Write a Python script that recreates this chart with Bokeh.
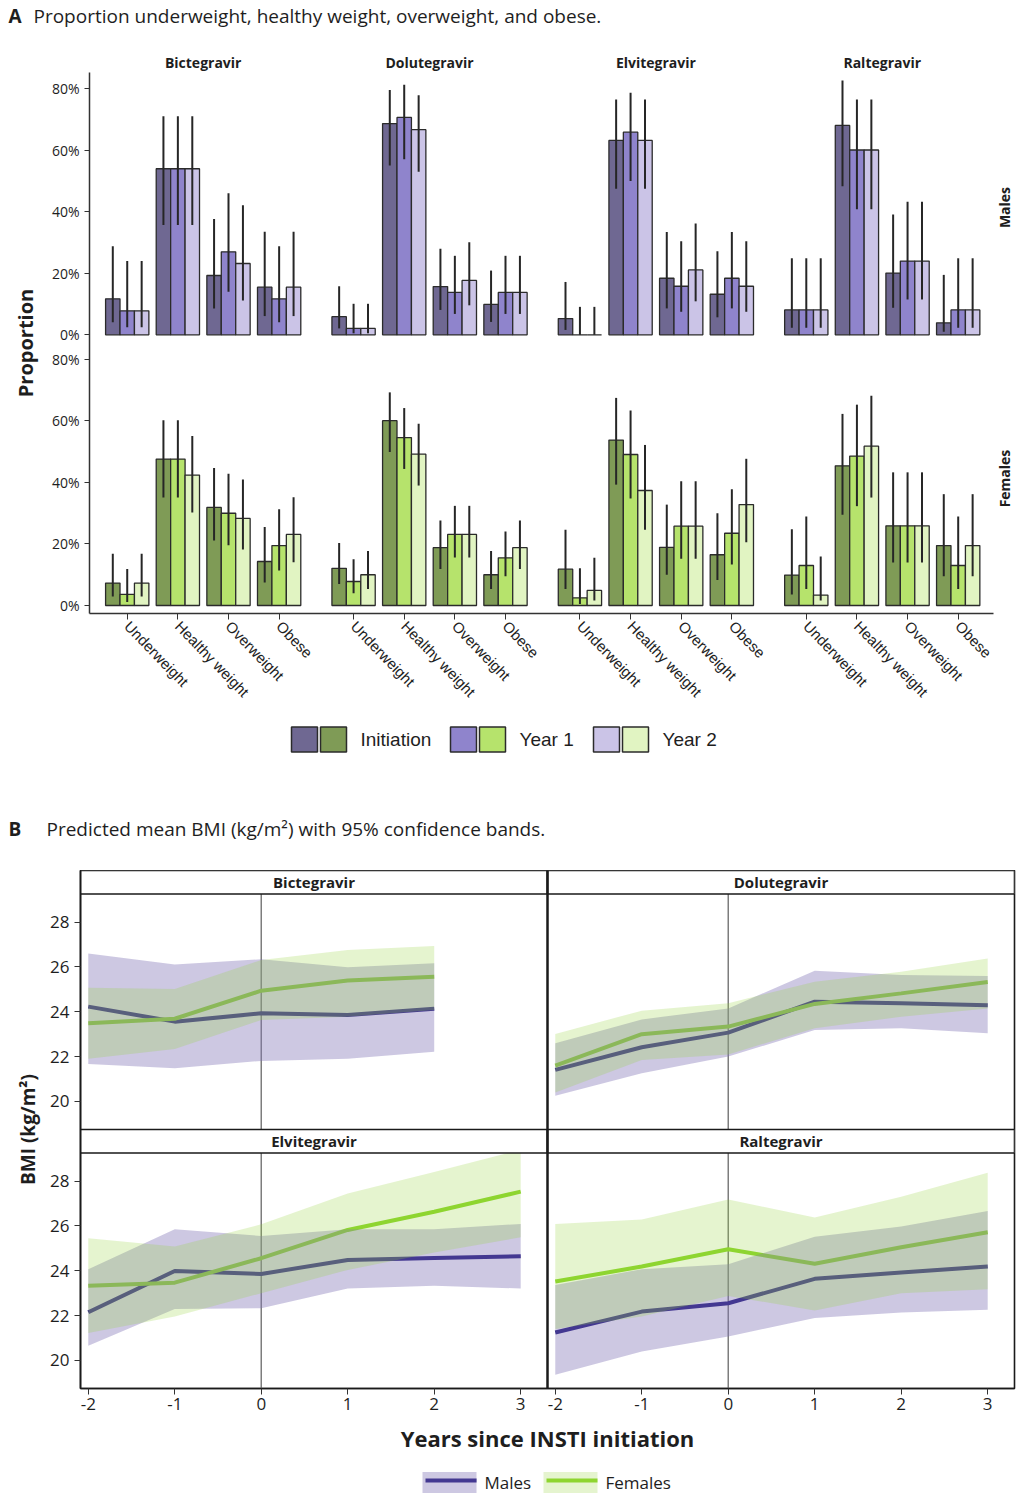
import math
from bokeh.plotting import figure
from bokeh.models import Range1d, FixedTicker, Label
from bokeh.embed import file_html
from bokeh.resources import INLINE
from bokeh.core.properties import value

# ------------------------------------------------------------------ data
drugs = ["Bictegravir", "Dolutegravir", "Elvitegravir", "Raltegravir"]
weight_classes = ["Underweight", "Healthy weight", "Overweight", "Obese"]
timepoints = ["Initiation", "Year 1", "Year 2"]
sexes = ["Males", "Females"]
pct_ticks = [0, 20, 40, 60, 80]

# proportions (%), drug-major order: 4 drugs x 4 weight classes
males_init = [11.7, 54.0, 19.3, 15.5, 5.9, 68.7, 15.7, 9.9, 5.3, 63.2, 18.4, 13.2, 8.1, 68.1, 20.1, 3.9]
males_y1 = [7.8, 54.0, 27.0, 11.7, 2.1, 70.7, 13.8, 13.8, 0.0, 65.9, 15.8, 18.4, 8.1, 60.1, 24.0, 8.1]
males_y2 = [7.8, 54.0, 23.2, 15.5, 2.1, 66.7, 17.7, 13.8, 0.0, 63.2, 21.1, 15.8, 8.1, 60.1, 24.0, 8.1]
males_init_lo = [4.1, 35.7, 8.6, 6.1, 2.1, 55.1, 8.1, 4.2, 1.6, 47.5, 8.6, 5.7, 2.3, 48.3, 8.8, 1.0]
males_init_hi = [28.8, 71.1, 37.7, 33.5, 15.8, 79.6, 28.0, 20.9, 17.2, 76.5, 33.4, 27.2, 24.9, 82.7, 39.1, 19.5]
males_y1_lo = [2.5, 35.7, 14.0, 4.1, 0.5, 57.1, 6.8, 6.8, 0.0, 50.0, 7.5, 8.6, 2.3, 40.8, 11.5, 2.3]
males_y1_hi = [24.0, 71.1, 46.0, 28.8, 10.1, 81.3, 25.7, 25.7, 9.1, 78.7, 30.4, 33.4, 24.9, 76.5, 43.3, 24.9]
males_y2_lo = [2.5, 35.7, 11.2, 6.1, 0.5, 53.0, 9.6, 6.8, 0.0, 47.5, 10.9, 7.5, 2.3, 40.8, 11.5, 2.3]
males_y2_hi = [24.0, 71.1, 42.1, 33.5, 10.1, 77.9, 30.1, 25.7, 9.1, 76.5, 36.2, 30.4, 24.9, 76.5, 43.3, 24.9]

females_init = [7.3, 47.6, 31.9, 14.3, 12.1, 60.1, 18.8, 10.0, 11.8, 53.8, 18.9, 16.5, 9.9, 45.4, 25.9, 19.5]
females_y1 = [3.6, 47.6, 30.0, 19.5, 7.8, 54.6, 23.1, 15.5, 2.5, 49.1, 25.8, 23.5, 13.0, 48.6, 25.9, 13.0]
females_y2 = [7.3, 42.4, 28.3, 23.1, 10.0, 49.2, 23.1, 18.8, 4.9, 37.4, 25.8, 32.8, 3.4, 51.8, 25.9, 19.5]
females_init_lo = [2.9, 35.1, 21.1, 7.5, 7.0, 49.9, 11.9, 5.4, 5.4, 39.3, 10.0, 8.3, 3.6, 29.5, 14.0, 9.5]
females_init_hi = [16.8, 60.2, 44.7, 25.5, 20.3, 69.3, 27.6, 17.7, 24.6, 67.5, 32.8, 30.0, 24.8, 62.3, 43.3, 36.2]
females_y1_lo = [1.1, 35.1, 19.6, 11.4, 4.0, 44.4, 15.6, 9.5, 0.5, 34.8, 15.2, 13.3, 5.4, 32.3, 14.0, 5.4]
females_y1_hi = [11.9, 60.2, 42.8, 31.3, 15.0, 64.2, 32.4, 24.1, 12.1, 63.4, 40.4, 37.8, 28.9, 65.3, 43.3, 28.9]
females_y2_lo = [2.9, 30.2, 18.2, 14.1, 5.4, 39.0, 15.6, 11.9, 1.6, 24.6, 15.2, 20.6, 1.6, 35.1, 14.0, 9.5]
females_y2_hi = [16.8, 55.1, 41.0, 35.2, 17.7, 59.1, 32.4, 27.6, 15.5, 52.2, 40.4, 47.7, 15.9, 68.2, 43.3, 36.2]

# predicted mean BMI (kg/m2) with 95% bands by years since initiation
years = [-2, -1, 0, 1, 2, 3]
year_ticks = [-2, -1, 0, 1, 2, 3]
bmi_ticks = [20, 22, 24, 26, 28]

bic_years = [-2, -1, 0, 1, 2]
bic_male = [24.23, 23.56, 23.93, 23.86, 24.14]
bic_male_lo = [21.67, 21.48, 21.81, 21.90, 22.22]
bic_male_hi = [26.60, 26.11, 26.34, 25.98, 26.16]
bic_female = [23.49, 23.69, 24.94, 25.39, 25.56]
bic_female_lo = [21.90, 22.34, 23.63, 23.78, 24.08]
bic_female_hi = [25.07, 25.01, 26.31, 26.75, 26.93]

dtg_male = [21.41, 22.42, 23.07, 24.45, 24.38, 24.29]
dtg_male_lo = [20.25, 21.26, 22.00, 23.19, 23.26, 23.04]
dtg_male_hi = [22.60, 23.66, 24.15, 25.83, 25.64, 25.60]
dtg_female = [21.60, 23.00, 23.34, 24.35, 24.82, 25.33]
dtg_female_lo = [20.40, 21.85, 22.10, 23.26, 23.78, 24.15]
dtg_female_hi = [23.01, 24.05, 24.38, 25.34, 25.79, 26.38]

evg_male = [22.15, 23.99, 23.86, 24.48, 24.57, 24.65]
evg_male_lo = [20.66, 22.29, 22.33, 23.21, 23.33, 23.21]
evg_male_hi = [24.07, 25.85, 25.55, 25.85, 25.85, 26.09]
evg_female = [23.33, 23.47, 24.56, 25.82, 26.63, 27.53]
evg_female_lo = [21.22, 21.96, 23.00, 24.04, 24.81, 25.49]
evg_female_hi = [25.45, 25.08, 26.07, 27.45, 28.40, 29.40]

ral_male = [21.25, 22.18, 22.55, 23.64, 23.92, 24.19]
ral_male_lo = [19.36, 20.40, 21.07, 21.89, 22.14, 22.26]
ral_male_hi = [23.37, 24.07, 24.29, 25.52, 25.97, 26.66]
ral_female = [23.52, 24.19, 24.96, 24.31, 25.05, 25.72]
ral_female_lo = [21.40, 21.96, 22.88, 22.23, 23.00, 23.18]
ral_female_hi = [26.09, 26.29, 27.18, 26.38, 27.30, 28.37]

# ------------------------------------------------------------------ style
FONT = "Open Sans"
TEXT = "#1e1e1e"
OUTLINE = "#2b2b2b"
MALE_FILLS = ["#6f6892", "#8f84cc", "#cbc4e7"]
FEMALE_FILLS = ["#7f9b56", "#b6e36c", "#e1f4c2"]

MALE_LINE = "#1a0f78"
FEMALE_LINE = "#8bd62b"
MALE_BAND = "#8276b7"
FEMALE_BAND = "#97d33f"
MALE_BAND_ALPHA = 0.4
FEMALE_BAND_ALPHA = 0.25
PAGE_W = 1021


def text_strip(height):
    """A blank full-width canvas whose data units are pixels (y grows downwards)."""
    f = figure(width=PAGE_W, height=height, x_range=Range1d(0, PAGE_W), y_range=Range1d(height, 0),
               output_backend="svg", toolbar_location=None, title=None, min_border=0,
               x_axis_location=None, y_axis_location=None)
    f.grid.visible = False
    f.outline_line_color = None
    return f


def heading(f, y, letter, caption, caption_x):
    f.text(x=[8], y=[y], text=[letter], text_font=value(FONT), text_font_style="bold",
           text_font_size="19px", text_color=TEXT, text_baseline="middle")
    f.text(x=[caption_x], y=[y], text=[caption], text_font=value(FONT), text_font_size="19px",
           text_color=TEXT, text_baseline="middle")


# ================================================================ panel A geometry
GROUP_GAP = 0.47
BAR_W = 0.285
MALE_SHIFT = 88          # male rows sit above the female rows on the shared axis
TOP_H = 72                # heading strip: page rows 0..72
A_H = 643                 # bar canvas: page rows 72..715
A_L, A_B = 89, 541
A_AXIS_RIGHT = 993
AX0, AX1 = -0.745, 17.66
AY0, AY1 = -2.6, 173.3

n_cls = len(weight_classes)
slots = [d * (n_cls + GROUP_GAP) + c for d in range(len(drugs)) for c in range(n_cls)]


def a_x(px):
    return AX0 + (px - A_L) * (AX1 - AX0) / (PAGE_W - A_L)


def a_px(x):
    return A_L + (x - AX0) * (PAGE_W - A_L) / (AX1 - AX0)


def a_y(py):
    return AY1 - py * (AY1 - AY0) / A_B


# ================================================================ panel A heading
top = text_strip(TOP_H)
heading(top, 15, "A", "Proportion underweight, healthy weight, overweight, and obese.", 33)
for d, name in enumerate(drugs):
    centre = sum(slots[d * n_cls:(d + 1) * n_cls]) / n_cls
    top.text(x=[a_px(centre)], y=[62], text=[name], text_font=value(FONT), text_font_style="bold",
             text_font_size="14px", text_color=TEXT, text_align="center", text_baseline="middle")

# ================================================================ panel A
pa = figure(width=PAGE_W, height=A_H, x_range=Range1d(AX0, AX1), y_range=Range1d(AY0, AY1),
            output_backend="svg", toolbar_location=None, title=None,
            min_border_left=A_L, min_border_right=0,
            min_border_top=0, min_border_bottom=A_H - A_B)
pa.extra_y_ranges = {"males": Range1d(AY0 - MALE_SHIFT, AY1 - MALE_SHIFT)}
pa.grid.visible = False
pa.outline_line_color = None

male_series = [(males_init, males_init_lo, males_init_hi),
               (males_y1, males_y1_lo, males_y1_hi),
               (males_y2, males_y2_lo, males_y2_hi)]
female_series = [(females_init, females_init_lo, females_init_hi),
                 (females_y1, females_y1_lo, females_y1_hi),
                 (females_y2, females_y2_lo, females_y2_hi)]

for series, fills, rng in [(male_series, MALE_FILLS, "males"), (female_series, FEMALE_FILLS, "default")]:
    for k, (mid_, lo, hi) in enumerate(series):
        xs = [s + (k - 1) * BAR_W for s in slots]
        pa.vbar(x=xs, top=mid_, bottom=0, width=BAR_W, fill_color=fills[k],
                line_color=OUTLINE, line_width=1.3, y_range_name=rng)
    for k, (mid_, lo, hi) in enumerate(series):
        xs = [s + (k - 1) * BAR_W for s in slots]
        pa.segment(x0=xs, y0=lo, x1=xs, y1=hi, line_color="#262626", line_width=2,
                   y_range_name=rng)

ya = pa.yaxis[0]
ya.ticker = FixedTicker(ticks=pct_ticks + [t + MALE_SHIFT for t in pct_ticks])
overrides = {t: f"{t}%" for t in pct_ticks}
overrides.update({t + MALE_SHIFT: f"{t}%" for t in pct_ticks})
ya.major_label_overrides = overrides
ya.axis_label = "Proportion"
ya.axis_label_text_font = FONT
ya.axis_label_text_font_style = "bold"
ya.axis_label_text_font_size = "20px"
ya.axis_label_text_color = TEXT
ya.axis_label_standoff = 10
ya.major_label_text_font = FONT
ya.major_label_text_font_size = "14px"
ya.major_label_text_color = TEXT
ya.major_label_standoff = 5
ya.major_tick_out = 5
ya.major_tick_in = 0
ya.minor_tick_line_color = None
ya.axis_line_color = "#333333"
ya.axis_line_width = 1.5
ya.major_tick_line_color = "#333333"

xa = pa.xaxis[0]
xa.ticker = FixedTicker(ticks=slots)
xa.major_label_overrides = {s: weight_classes[i % n_cls] for i, s in enumerate(slots)}
xa.bounds = (AX0, a_x(A_AXIS_RIGHT))
xa.major_label_orientation = -0.8
xa.major_label_text_font = "Liberation Sans"
xa.major_label_text_font_size = "15px"
xa.major_label_text_color = TEXT
xa.major_label_standoff = 4
xa.major_tick_out = 6
xa.major_tick_in = 0
xa.minor_tick_line_color = None
xa.axis_line_color = "#333333"
xa.axis_line_width = 1.5
xa.major_tick_line_color = "#333333"

for name, py in zip(sexes, [135, 406]):
    pa.add_layout(Label(x=a_x(1004), y=a_y(py), text=name, text_font=FONT, text_font_style="bold",
                        text_font_size="14px", text_color=TEXT, text_align="center",
                        text_baseline="middle", angle=math.pi / 2))

# ================================================ legend for A + panel B heading
mid = text_strip(155)
SW, SH, SGAP = 26, 25, 3
item_x0 = [291, 450, 593]
cy = 24
for k, label in enumerate(timepoints):
    x0 = item_x0[k]
    mid.quad(left=[x0, x0 + SW + SGAP], right=[x0 + SW, x0 + 2 * SW + SGAP],
             bottom=[cy + SH / 2] * 2, top=[cy - SH / 2] * 2,
             fill_color=[MALE_FILLS[k], FEMALE_FILLS[k]], line_color=OUTLINE, line_width=1.5)
    mid.text(x=[x0 + 2 * SW + SGAP + 14], y=[cy], text=[label], text_font=value("Liberation Sans"),
             text_font_size="19px", text_color=TEXT, text_baseline="middle")
heading(mid, 113, "B", "Predicted mean BMI (kg/m\u00b2) with 95% confidence bands.", 46)

# ================================================================ panel B
B_H = 592                  # canvas spans page rows 870..1462
B_L, B_R, B_B = 80, 1014, 518
X_LO, X_HI = -2.09, 3.31
Y_LO, Y_HI, HDR = 18.75, 29.25, 1.05
COL_OFF = X_HI - X_LO
ROW_OFF = (Y_HI - Y_LO) + HDR

pb = figure(width=PAGE_W, height=B_H,
            x_range=Range1d(X_LO, X_LO + 2 * COL_OFF), y_range=Range1d(Y_LO, Y_LO + 2 * ROW_OFF),
            output_backend="svg", toolbar_location=None, title=None,
            min_border_left=B_L, min_border_right=PAGE_W - B_R,
            min_border_top=0, min_border_bottom=B_H - B_B)
pb.extra_x_ranges = {"right": Range1d(X_LO - COL_OFF, X_LO + COL_OFF)}
pb.extra_y_ranges = {"top": Range1d(Y_LO - ROW_OFF, Y_LO + ROW_OFF)}
pb.grid.visible = False
pb.outline_line_color = "#1a1a1a"
pb.outline_line_width = 1.6

panels = [
    ("Bictegravir", "default", "top", bic_years, bic_male, bic_male_lo, bic_male_hi,
     bic_female, bic_female_lo, bic_female_hi),
    ("Dolutegravir", "right", "top", years, dtg_male, dtg_male_lo, dtg_male_hi,
     dtg_female, dtg_female_lo, dtg_female_hi),
    ("Elvitegravir", "default", "default", years, evg_male, evg_male_lo, evg_male_hi,
     evg_female, evg_female_lo, evg_female_hi),
    ("Raltegravir", "right", "default", years, ral_male, ral_male_lo, ral_male_hi,
     ral_female, ral_female_lo, ral_female_hi),
]

for (name, xr, yr, yrs, m, m_lo, m_hi, f, f_lo, f_hi) in panels:
    kw = dict(x_range_name=xr, y_range_name=yr)
    pb.segment(x0=[0], y0=[Y_LO], x1=[0], y1=[Y_HI], line_color="#7d7d7d", line_width=1.5, **kw)
    pb.line(yrs, m, line_color=MALE_LINE, line_width=4, **kw)
    pb.line(yrs, f, line_color=FEMALE_LINE, line_width=4, **kw)
    pb.varea(x=yrs, y1=m_lo, y2=m_hi, fill_color=MALE_BAND, fill_alpha=MALE_BAND_ALPHA, **kw)
    pb.varea(x=yrs, y1=f_lo, y2=f_hi, fill_color=FEMALE_BAND, fill_alpha=FEMALE_BAND_ALPHA, **kw)
    pb.quad(left=[X_LO], right=[X_HI], bottom=[Y_HI], top=[Y_HI + HDR], fill_color="white",
            line_color="#1a1a1a", line_width=1.6, **kw)
    pb.add_layout(Label(x=(X_LO + X_HI) / 2, y=Y_HI + HDR / 2, text=name, text_font=FONT,
                        text_font_style="bold", text_font_size="15px", text_color=TEXT,
                        text_align="center", text_baseline="middle", **kw))

pb.segment(x0=[X_HI], y0=[Y_LO], x1=[X_HI], y1=[Y_LO + 2 * ROW_OFF], line_color="#1a1a1a",
           line_width=2.5)

yb = pb.yaxis[0]
yb.ticker = FixedTicker(ticks=bmi_ticks + [t + ROW_OFF for t in bmi_ticks])
ov = {t: str(t) for t in bmi_ticks}
ov.update({t + ROW_OFF: str(t) for t in bmi_ticks})
yb.major_label_overrides = ov
yb.axis_label = "BMI (kg/m\u00b2)"

xb = pb.xaxis[0]
xb.ticker = FixedTicker(ticks=year_ticks + [t + COL_OFF for t in year_ticks])
ovx = {t: str(t) for t in year_ticks}
ovx.update({t + COL_OFF: str(t) for t in year_ticks})
xb.major_label_overrides = ovx
xb.axis_label = "Years since INSTI initiation"

for ax, size in [(yb, "19px"), (xb, "22px")]:
    ax.axis_label_text_font = FONT
    ax.axis_label_text_font_style = "bold"
    ax.axis_label_text_font_size = size
    ax.axis_label_text_color = TEXT
    ax.major_label_text_font = FONT
    ax.major_label_text_font_size = "17px"
    ax.major_label_text_color = TEXT
    ax.major_tick_out = 6
    ax.major_tick_in = 0
    ax.minor_tick_line_color = None
    ax.axis_line_color = "#1a1a1a"
    ax.axis_line_width = 1.6
    ax.major_tick_line_color = "#333333"
xb.major_label_standoff = 3
xb.axis_label_standoff = 10
yb.major_label_standoff = 5
yb.axis_label_standoff = 6

# ================================================================ legend for B
lgb = text_strip(38)
legend_x0 = [422, 543]
LW, LH, ly = 54, 21, 20
for x0, name, band, alpha, line in zip(legend_x0, sexes, [MALE_BAND, FEMALE_BAND],
                                       [MALE_BAND_ALPHA, FEMALE_BAND_ALPHA], [MALE_LINE, FEMALE_LINE]):
    lgb.segment(x0=[x0 + 3], y0=[ly - 2], x1=[x0 + LW], y1=[ly - 2], line_color=line, line_width=4)
    lgb.quad(left=[x0], right=[x0 + LW], top=[ly - LH / 2], bottom=[ly + LH / 2],
             fill_color=band, fill_alpha=alpha, line_color=None)
    lgb.text(x=[x0 + LW + 8], y=[ly], text=[name], text_font=value(FONT), text_font_size="17px",
             text_color=TEXT, text_baseline="middle")

open("out.html", "w").write(file_html([top, pa, mid, pb, lgb], INLINE))
